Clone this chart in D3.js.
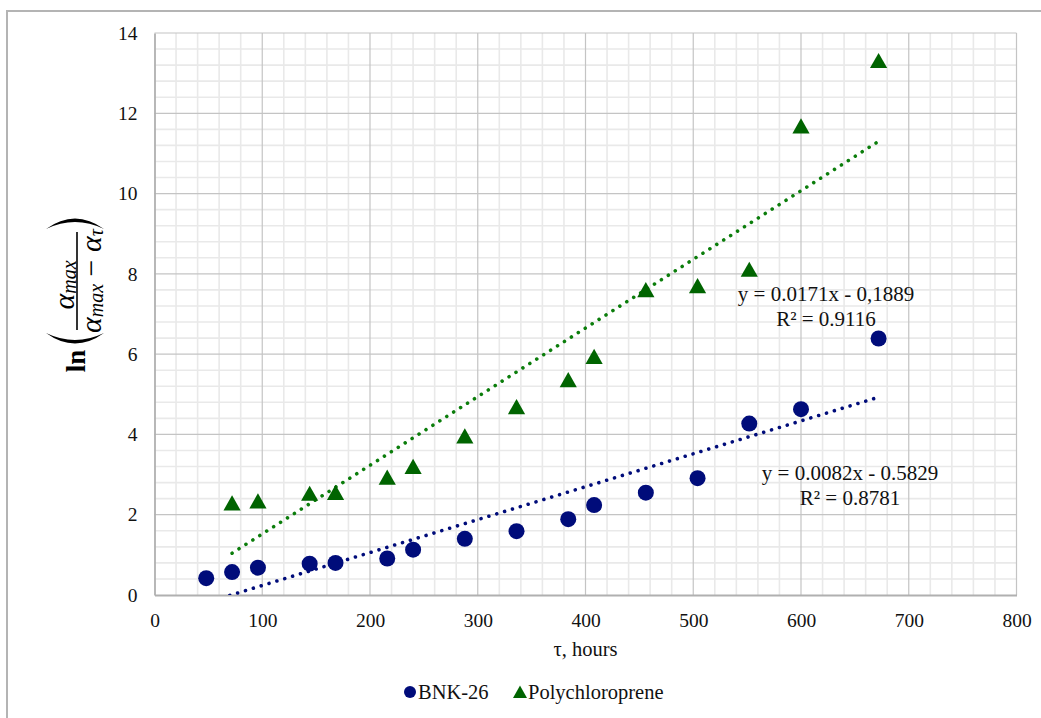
<!DOCTYPE html>
<html>
<head>
<meta charset="utf-8">
<script src="https://cdn.jsdelivr.net/npm/d3@7"></script>
<style>
  html, body { margin: 0; padding: 0; background: #fff; }
  svg { display: block; }
</style>
</head>
<body>
<div id="chart"></div>
<script>
// Sorption kinetics: ln(a_max / (a_max - a_t)) versus exposure time
const bnkHours  = [48, 72, 96, 144, 168, 216, 240, 288, 336, 384, 408, 456, 504, 552, 600, 672];
const bnkValues = [0.42, 0.57, 0.68, 0.78, 0.80, 0.91, 1.13, 1.40, 1.59, 1.89, 2.24, 2.55, 2.91, 4.27, 4.63, 6.39];

const pcHours  = [72, 96, 144, 168, 216, 240, 288, 336, 384, 408, 456, 504, 552, 600, 672];
const pcValues = [2.29, 2.34, 2.53, 2.55, 2.93, 3.20, 3.96, 4.69, 5.36, 5.94, 7.60, 7.70, 8.11, 11.68, 13.31];

// Linear trend coefficients (slope, intercept) and R² as printed on the chart
const bnkFit = { slope: 0.0082, intercept: -0.5829, r2: "0.8781", label: "y = 0.0082x - 0.5829" };
const pcFit  = { slope: 0.0171, intercept: -0.1889, r2: "0.9116", label: "y = 0.0171x - 0,1889" };

const xTicks = [0, 100, 200, 300, 400, 500, 600, 700, 800];
const yTicks = [0, 2, 4, 6, 8, 10, 12, 14];
const seriesNames = ["BNK-26", "Polychloroprene"];

const W = 1041, H = 718;
const plot = { left: 154.5, right: 1016.5, top: 33, bottom: 595 };
const navy = "#000c7a", green = "#006400", trendGreen = "#0b7d0b";
const serif = "'Liberation Serif', 'Times New Roman', serif";

const svg = d3.select("#chart").append("svg")
  .attr("width", W).attr("height", H)
  .style("font-family", serif);

svg.append("rect").attr("width", W).attr("height", H).attr("fill", "#fff");
// chart frame
svg.append("rect")
  .attr("x", 7).attr("y", 11).attr("width", W).attr("height", H)
  .attr("fill", "none").attr("stroke", "#b4b4b4").attr("stroke-width", 2);

const x = d3.scaleLinear().domain([0, 800]).range([plot.left, plot.right]);
const y = d3.scaleLinear().domain([0, 14]).range([plot.bottom, plot.top]);

// minor grid
const grid = svg.append("g");
grid.selectAll(".vx").data(d3.range(0, 801, 20).filter(v => v % 100 !== 0)).join("line")
  .attr("x1", d => x(d)).attr("x2", d => x(d))
  .attr("y1", plot.top).attr("y2", plot.bottom)
  .attr("stroke", "#e9e9e9").attr("stroke-width", 1.6);
grid.selectAll(".hy").data(d3.range(0, 70).map(i => i * 0.4).filter(v => v < 14 && Math.abs(v / 2 - Math.round(v / 2)) > 1e-6)).join("line")
  .attr("y1", d => y(d)).attr("y2", d => y(d))
  .attr("x1", plot.left).attr("x2", plot.right)
  .attr("stroke", "#e9e9e9").attr("stroke-width", 1.6);
// major grid
grid.selectAll(".mx").data(xTicks.slice(1)).join("line")
  .attr("x1", d => x(d)).attr("x2", d => x(d))
  .attr("y1", plot.top).attr("y2", plot.bottom)
  .attr("stroke", "#c4c4c4").attr("stroke-width", 1.2);
grid.selectAll(".my").data(yTicks.slice(1)).join("line")
  .attr("y1", d => y(d)).attr("y2", d => y(d))
  .attr("x1", plot.left).attr("x2", plot.right)
  .attr("stroke", "#c4c4c4").attr("stroke-width", 1.2);

// axes
const xAxis = svg.append("g").attr("transform", `translate(0,${plot.bottom})`)
  .call(d3.axisBottom(x).tickValues(xTicks).tickSize(0).tickPadding(18).tickFormat(d3.format("d")));
const yAxis = svg.append("g").attr("transform", `translate(${plot.left},0)`)
  .call(d3.axisLeft(y).tickValues(yTicks).tickSize(0).tickPadding(17).tickFormat(d3.format("d")));
[xAxis, yAxis].forEach(a => {
  a.select(".domain").attr("stroke", "#b0b0b0").attr("stroke-width", 1.8);
  a.selectAll("text").attr("font-family", serif).attr("font-size", 19.5).attr("fill", "#111");
});

// trend lines, clipped to the plot area
svg.append("clipPath").attr("id", "plotClip").append("rect")
  .attr("x", plot.left).attr("y", plot.top)
  .attr("width", plot.right - plot.left).attr("height", plot.bottom - plot.top);

function trend(fit, hours) {
  const x0 = d3.min(hours), x1 = d3.max(hours);
  return [[x0, fit.slope * x0 + fit.intercept], [x1, fit.slope * x1 + fit.intercept]];
}
const line = d3.line().x(d => x(d[0])).y(d => y(d[1]));
const trends = svg.append("g").attr("clip-path", "url(#plotClip)");
trends.append("path").datum(trend(pcFit, pcHours)).attr("d", line)
  .attr("fill", "none").attr("stroke", trendGreen).attr("stroke-width", 3.6)
  .attr("stroke-linecap", "round").attr("stroke-dasharray", "0.01 8.2");
trends.append("path").datum(trend(bnkFit, bnkHours)).attr("d", line)
  .attr("fill", "none").attr("stroke", navy).attr("stroke-width", 3.6)
  .attr("stroke-linecap", "round").attr("stroke-dasharray", "0.01 8.2");

// markers
const tri = "M0,-7.8L8.6,7.4L-8.6,7.4Z";
svg.append("g").selectAll("path").data(d3.zip(pcHours, pcValues)).join("path")
  .attr("d", tri).attr("fill", green)
  .attr("transform", d => `translate(${x(d[0])},${y(d[1])})`);
svg.append("g").selectAll("circle").data(d3.zip(bnkHours, bnkValues)).join("circle")
  .attr("cx", d => x(d[0])).attr("cy", d => y(d[1])).attr("r", 8)
  .attr("fill", navy);

// trend equations
function eq(fit, cx, by) {
  const t = svg.append("text").attr("text-anchor", "middle").attr("font-size", 21).attr("fill", "#111");
  t.append("tspan").attr("x", cx).attr("y", by).text(fit.label);
  t.append("tspan").attr("x", cx).attr("y", by + 25).text("R² = " + fit.r2);
}
eq(pcFit, 826, 301);
eq(bnkFit, 850, 480);

// x axis title
svg.append("text").attr("x", (plot.left + plot.right) / 2).attr("y", 656)
  .attr("text-anchor", "middle").attr("font-size", 20.5).attr("fill", "#111")
  .text("τ, hours");

// y axis title: ln( a_max / (a_max − a_τ) )
const yl = svg.append("g").attr("transform", "translate(77,282) rotate(-90)").attr("fill", "#000");
yl.append("text").attr("x", -79).attr("y", 8).attr("text-anchor", "middle")
  .attr("font-size", 27).attr("font-weight", "bold").text("ln");
yl.append("path").attr("d", "M-51,-31Q-72,-2 -51,27Q-65,-2 -51,-31Z");
yl.append("path").attr("d", "M53,-31Q74,-2 53,27Q67,-2 53,-31Z");
yl.append("line").attr("x1", -48).attr("x2", 50).attr("y1", 0).attr("y2", 0)
  .attr("stroke", "#000").attr("stroke-width", 1.6);
const num = yl.append("text").attr("x", -3).attr("y", -3).attr("text-anchor", "middle")
  .attr("font-style", "italic").attr("font-size", 30);
num.append("tspan").text("α");
num.append("tspan").attr("font-size", 20).attr("dy", 2).text("max");
const den = yl.append("text").attr("x", 1).attr("y", 24).attr("text-anchor", "middle")
  .attr("font-style", "italic").attr("font-size", 30);
den.append("tspan").text("α");
den.append("tspan").attr("font-size", 20).attr("dy", 2).text("max");
den.append("tspan").attr("font-style", "normal").attr("dy", -2).text(" − ");
den.append("tspan").text("α");
den.append("tspan").attr("font-size", 20).attr("dy", 2).text("τ");

// legend
const lg = svg.append("g").attr("font-size", 20.5).attr("fill", "#111");
lg.append("circle").attr("cx", 410).attr("cy", 692).attr("r", 6).attr("fill", navy);
lg.append("text").attr("x", 418).attr("y", 699).text(seriesNames[0]);
lg.append("path").attr("d", "M0,-6.5L7,6L-7,6Z").attr("fill", green)
  .attr("transform", "translate(520,692)");
lg.append("text").attr("x", 528).attr("y", 699).text(seriesNames[1]);
</script>
</body>
</html>
